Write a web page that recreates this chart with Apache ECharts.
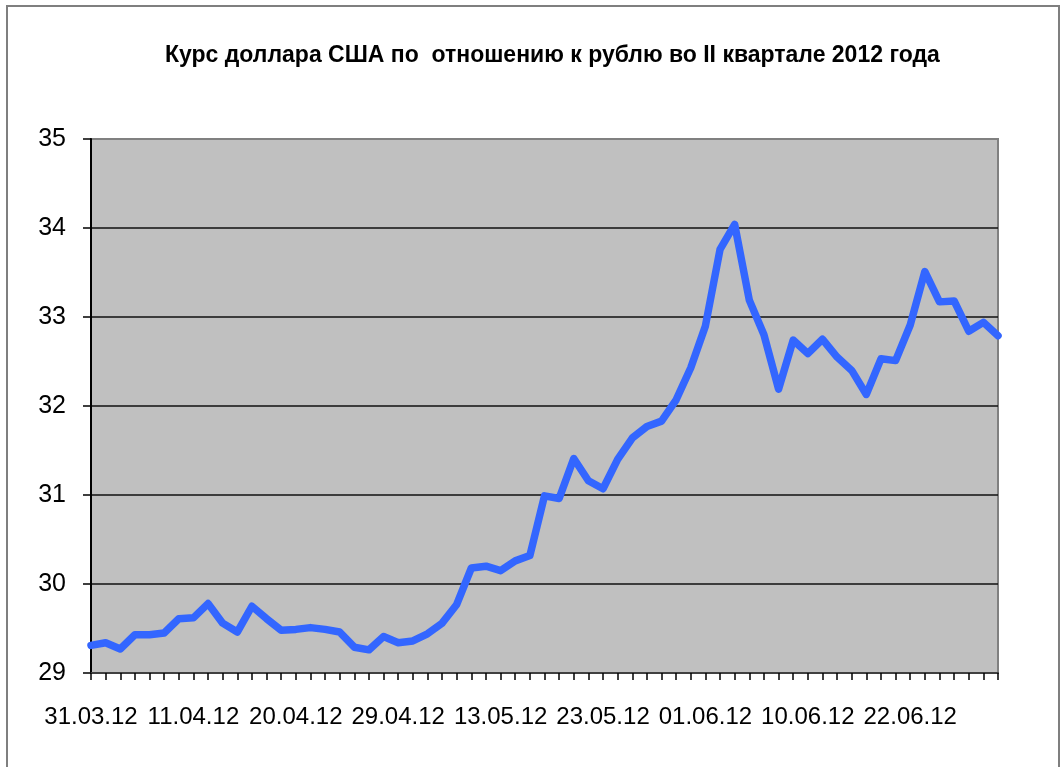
<!DOCTYPE html>
<html>
<head>
<meta charset="utf-8">
<script src="https://cdn.jsdelivr.net/npm/echarts@6/dist/echarts.min.js"></script>
<style>
html,body{margin:0;padding:0;background:#fff;}
#chart{width:1064px;height:767px;}
</style>
</head>
<body>
<div id="chart"></div>
<script>
const titleText = 'Курс доллара США по  отношению к рублю во II квартале 2012 года';

const dates = [
  '31.03.12','03.04.12','04.04.12','05.04.12','06.04.12','07.04.12','10.04.12',
  '11.04.12','12.04.12','13.04.12','14.04.12','17.04.12','18.04.12','19.04.12',
  '20.04.12','21.04.12','24.04.12','25.04.12','26.04.12','27.04.12','28.04.12',
  '29.04.12','03.05.12','04.05.12','05.05.12','10.05.12','11.05.12','12.05.12',
  '13.05.12','15.05.12','16.05.12','17.05.12','18.05.12','19.05.12','22.05.12',
  '23.05.12','24.05.12','25.05.12','26.05.12','29.05.12','30.05.12','31.05.12',
  '01.06.12','02.06.12','05.06.12','06.06.12','07.06.12','08.06.12','09.06.12',
  '10.06.12','14.06.12','15.06.12','16.06.12','19.06.12','20.06.12','21.06.12',
  '22.06.12','23.06.12','26.06.12','27.06.12','28.06.12','29.06.12','30.06.12'
];

const usdRub = [
  29.31, 29.34, 29.27, 29.43, 29.43, 29.45, 29.61,
  29.62, 29.78, 29.56, 29.46, 29.75, 29.61, 29.48,
  29.49, 29.51, 29.49, 29.46, 29.29, 29.26, 29.41,
  29.34, 29.36, 29.44, 29.56, 29.77, 30.18, 30.20,
  30.15, 30.26, 30.32, 30.99, 30.96, 31.41, 31.16,
  31.07, 31.40, 31.64, 31.77, 31.83, 32.07, 32.43,
  32.90, 33.76, 34.04, 33.19, 32.80, 32.19, 32.74,
  32.59, 32.75, 32.55, 32.40, 32.13, 32.53, 32.51,
  32.91, 33.51, 33.17, 33.18, 32.84, 32.94, 32.79
];

const yTicks = [29, 30, 31, 32, 33, 34, 35];

const chart = echarts.init(document.getElementById('chart'), null, {renderer: 'canvas'});
const labelFont = '"Liberation Sans", Arial, sans-serif';

chart.setOption({
  animation: false,
  backgroundColor: '#ffffff',
  graphic: [{
    type: 'rect',
    shape: {x: 7, y: 6, width: 1052, height: 800},
    style: {fill: 'none', stroke: '#7f7f7f', lineWidth: 2},
    silent: true
  }],
  title: {
    text: titleText,
    left: 160,
    top: 39,
    textStyle: {
      fontFamily: labelFont,
      fontWeight: 'bold',
      fontSize: 23,
      color: '#000'
    }
  },
  grid: {
    left: 91,
    right: 66,
    top: 139,
    bottom: 94,
    show: true,
    backgroundColor: '#c0c0c0',
    borderColor: '#808080',
    borderWidth: 2
  },
  xAxis: {
    type: 'category',
    data: dates,
    boundaryGap: false,
    axisLine: {show: true, lineStyle: {color: '#404040', width: 2}},
    axisTick: {show: true, interval: 0, length: 7, inside: false, lineStyle: {color: '#000', width: 1.5}},
    axisLabel: {
      interval: 6,
      showMinLabel: true,
      hideOverlap: false,
      margin: 32,
      fontFamily: labelFont,
      fontSize: 24,
      color: '#000'
    },
    splitLine: {show: false}
  },
  yAxis: {
    type: 'value',
    min: yTicks[0],
    max: yTicks[yTicks.length - 1],
    interval: 1,
    axisLine: {show: true, lineStyle: {color: '#000', width: 2}},
    axisTick: {show: true, length: 8, lineStyle: {color: '#000', width: 1.5}},
    axisLabel: {
      margin: 25,
      fontFamily: labelFont,
      fontSize: 25,
      color: '#000'
    },
    splitLine: {show: true, showMaxLine: false, showMinLine: false, lineStyle: {color: '#111', width: 1.5}}
  },
  series: [{
    type: 'line',
    data: usdRub,
    showSymbol: false,
    symbol: 'none',
    smooth: false,
    lineStyle: {color: '#3366ff', width: 7.5, join: 'round', cap: 'round'},
    itemStyle: {color: '#3366ff'}
  }]
});
</script>
</body>
</html>
